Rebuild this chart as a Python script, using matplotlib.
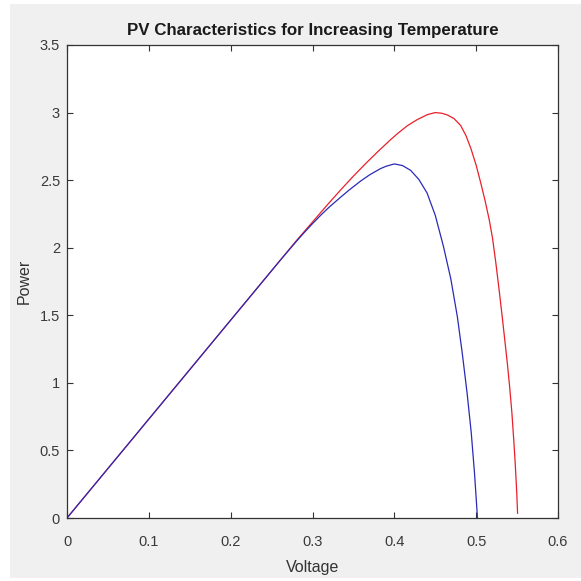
import matplotlib
matplotlib.use("Agg")
import matplotlib.pyplot as plt
from matplotlib.patches import Rectangle

# PV power curves at two cell temperatures (voltage in V, power in W)
v_low_temp = [0.0, 0.10, 0.20, 0.26, 0.28, 0.30, 0.32, 0.334, 0.35, 0.367, 0.38,
              0.3955, 0.405, 0.416, 0.428, 0.4405, 0.45, 0.458, 0.465, 0.473, 0.481,
              0.4875, 0.4935, 0.50, 0.5057, 0.511, 0.516, 0.52, 0.524, 0.528, 0.532,
              0.538, 0.541, 0.5437, 0.546, 0.5477, 0.5495, 0.5506]
p_low_temp = [0.0, 0.732, 1.464, 1.903, 2.050, 2.190, 2.330, 2.425, 2.530, 2.635, 2.712,
              2.800, 2.850, 2.903, 2.948, 2.985, 3.000, 2.995, 2.982, 2.955, 2.905,
              2.830, 2.735, 2.610, 2.477, 2.345, 2.206, 2.070, 1.890, 1.690, 1.480,
              1.150, 0.965, 0.775, 0.570, 0.405, 0.200, 0.035]

v_high_temp = [0.0, 0.10, 0.20, 0.26, 0.27, 0.28, 0.29, 0.30, 0.31, 0.32, 0.334, 0.345,
               0.359, 0.37, 0.383, 0.39, 0.40, 0.41, 0.42, 0.43, 0.44, 0.45, 0.46,
               0.469, 0.477, 0.483, 0.489, 0.494, 0.498, 0.5016]
p_high_temp = [0.0, 0.732, 1.464, 1.903, 1.974, 2.045, 2.113, 2.178, 2.240, 2.298, 2.372, 2.428,
               2.494, 2.540, 2.585, 2.603, 2.620, 2.608, 2.572, 2.505, 2.405, 2.240, 2.010,
               1.770, 1.490, 1.220, 0.920, 0.630, 0.330, 0.0]

x_ticks = [0, 0.1, 0.2, 0.3, 0.4, 0.5, 0.6]
y_ticks = [0, 0.5, 1, 1.5, 2, 2.5, 3, 3.5]

plt.rcParams['font.family'] = ['Liberation Sans', 'DejaVu Sans']

fig = plt.figure(figsize=(5.81, 5.81), dpi=100, facecolor='white')
# grey window background with a thin white frame
fig.add_artist(Rectangle((10 / 581, 3 / 581), 1 - 10 / 581, 1 - 7 / 581,
                         transform=fig.transFigure, facecolor='#f0f0f0',
                         edgecolor='none', zorder=-10))

ax = fig.add_axes([67 / 581, 1 - 518 / 581, (558 - 67) / 581, (518 - 45) / 581])
ax.set_zorder(1)
ax.set_facecolor('white')

ax.plot(v_low_temp, p_low_temp, color='#e8202a', linewidth=0.9, solid_joinstyle='round')
ax.plot(v_high_temp, p_high_temp, color='#2a2ab8', linewidth=0.9, solid_joinstyle='round')

ax.set_xlim(0, 0.6)
ax.set_ylim(0, 3.5)
ax.set_xticks(x_ticks)
ax.set_yticks(y_ticks)
ax.set_xticklabels([f"{t:g}" for t in x_ticks])
ax.set_yticklabels([f"{t:g}" for t in y_ticks])
ax.tick_params(direction='in', top=True, right=True, length=4, width=0.8,
               labelsize=10.5, labelcolor='#3a3a3a', color='#333333')
ax.tick_params(axis='x', pad=12)
ax.tick_params(axis='y', pad=5)
for s in ax.spines.values():
    s.set_linewidth(0.9)
    s.set_color('#333333')

ax.set_title("PV Characteristics for Increasing Temperature", fontsize=12.2,
             fontweight='bold', color='#1a1a1a', pad=7)
ax.set_xlabel("Voltage", fontsize=11.5, color='#333333', labelpad=8)
ax.set_ylabel("Power", fontsize=11.5, color='#333333', labelpad=6)

fig.savefig("out.png", dpi=100, facecolor=fig.get_facecolor())
